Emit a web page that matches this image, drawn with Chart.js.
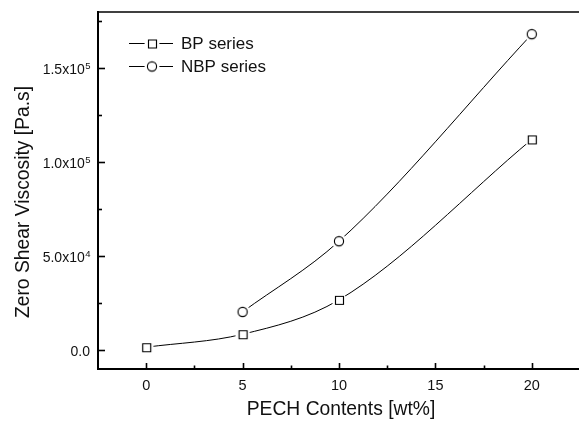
<!DOCTYPE html>
<html>
<head>
<meta charset="utf-8">
<script src="https://cdn.jsdelivr.net/npm/chart.js@4.4.1/dist/chart.umd.min.js"></script>
<style>
    html, body { margin: 0; padding: 0; background: #fff; overflow: hidden; }
    body { width: 579px; height: 421px; }
    #wrap { width: 586px; height: 421px; }
</style>
</head>
<body>
<div id="wrap"><canvas id="viscChart" width="586" height="421"></canvas></div>
<script>
// 数据
const bpContents = [0, 5, 10, 20];
const bpViscosity = [1600, 8500, 26800, 112200];
const nbpContents = [5, 10, 20];
const nbpViscosity = [20400, 58000, 168200];
const xTicks = [0, 5, 10, 15, 20];
const yTicks = [0, 50000, 100000, 150000];
// [底数, 上标]
const yTickLabels = [['0.0', ''], ['5.0x10', '4'], ['1.0x10', '5'], ['1.5x10', '5']];
const seriesNames = ['BP series', 'NBP series'];

const FONT = '"Liberation Sans", Arial, sans-serif';

// 空心符号，外圈留白
function makeMarker(shape) {
    const c = document.createElement('canvas');
    c.width = 22; c.height = 22;
    const g = c.getContext('2d');
    g.fillStyle = '#fff';
    g.beginPath(); g.arc(11, 11, 7.5, 0, Math.PI * 2); g.fill();
    g.strokeStyle = '#000';
    g.lineWidth = 1.15;
    g.beginPath();
    if (shape === 'square') {
        g.rect(7.5, 7.5, 8, 8);
    } else {
        g.arc(11, 11, 4.6, 0, Math.PI * 2);
    }
    g.fill();
    g.stroke();
    return c;
}
const squareMark = makeMarker('square');
const circleMark = makeMarker('circle');

function toPoints(xs, ys) {
    return xs.map((x, i) => ({ x: x, y: ys[i] }));
}

// 刻度、上边框、标题、图例
const decorPlugin = {
    id: 'decor',
    afterDraw(chart) {
        const ctx = chart.ctx;
        const area = chart.chartArea;
        const xs = chart.scales.x, ys = chart.scales.y;
        ctx.save();
        ctx.strokeStyle = '#000';
        ctx.lineWidth = 1.6;
        // 上边框
        ctx.beginPath();
        ctx.moveTo(area.left, area.top);
        ctx.lineTo(area.right, area.top);
        ctx.stroke();
        // x 轴刻度（向内）
        for (let v = -2.5; v <= 22.5; v += 2.5) {
            const px = Math.round(xs.getPixelForValue(v)) + 0.5;
            if (px <= area.left + 1) continue;
            const len = (v % 5 === 0) ? 6 : 3.5;
            ctx.beginPath();
            ctx.moveTo(px, area.bottom);
            ctx.lineTo(px, area.bottom - len);
            ctx.stroke();
        }
        // y 轴刻度（向内）
        for (let v = 0; v <= 175000; v += 25000) {
            const py = Math.round(ys.getPixelForValue(v)) + 0.5;
            const len = (v % 50000 === 0) ? 7 : 4;
            ctx.beginPath();
            ctx.moveTo(area.left, py);
            ctx.lineTo(area.left + len, py);
            ctx.stroke();
        }
        // y 轴刻度文字（带上标）
        ctx.fillStyle = '#111';
        ctx.textBaseline = 'alphabetic';
        ctx.textAlign = 'left';
        yTicks.forEach((v, i) => {
            const py = ys.getPixelForValue(v);
            const base = yTickLabels[i][0], sup = yTickLabels[i][1];
            ctx.font = '9.5px ' + FONT;
            const supW = sup ? ctx.measureText(sup).width : 0;
            ctx.font = '14px ' + FONT;
            const baseW = ctx.measureText(base).width;
            const right = area.left - 8;
            const x0 = right - supW - baseW;
            const baseline = py + 6;
            ctx.fillText(base, x0, baseline);
            if (sup) {
                ctx.font = '9.5px ' + FONT;
                ctx.fillText(sup, x0 + baseW + 0.5, baseline - 5.5);
            }
        });
        // 轴标题
        ctx.font = '19.3px ' + FONT;
        ctx.textAlign = 'center';
        ctx.textBaseline = 'middle';
        ctx.fillText('PECH Contents [wt%]', 341, 410);
        ctx.save();
        ctx.translate(24, 202);
        ctx.rotate(-Math.PI / 2);
        ctx.fillText('Zero Shear Viscosity [Pa.s]', 0, 0);
        ctx.restore();
        // 图例
        const marks = [squareMark, circleMark];
        const rowsY = [43, 66];
        ctx.font = '17px ' + FONT;
        ctx.textAlign = 'left';
        for (let i = 0; i < 2; i++) {
            const y = rowsY[i];
            ctx.lineWidth = 1;
            ctx.beginPath();
            ctx.moveTo(129, y + 0.5);
            ctx.lineTo(173, y + 0.5);
            ctx.stroke();
            ctx.drawImage(marks[i], 152 - 11, y - 11 + 0.5);
            ctx.fillText(seriesNames[i], 181, y + 1);
        }
        ctx.restore();
    }
};

const ctx = document.getElementById('viscChart').getContext('2d');
const viscChart = new Chart(ctx, {
    type: 'scatter',
    data: {
        datasets: [{
            label: seriesNames[0],
            data: toPoints(bpContents, bpViscosity),
            showLine: true,
            borderColor: '#000',
            borderWidth: 1,
            cubicInterpolationMode: 'monotone',
            pointStyle: squareMark,
            pointRadius: 5,
            pointHoverRadius: 5
        }, {
            label: seriesNames[1],
            data: toPoints(nbpContents, nbpViscosity),
            showLine: true,
            borderColor: '#000',
            borderWidth: 1,
            cubicInterpolationMode: 'monotone',
            pointStyle: circleMark,
            pointRadius: 5,
            pointHoverRadius: 5
        }]
    },
    options: {
        responsive: false,
        animation: false,
        layout: {
            padding: { top: 12, right: 0, left: 0, bottom: 0 }
        },
        plugins: {
            legend: { display: false },
            tooltip: { enabled: false }
        },
        scales: {
            x: {
                type: 'linear',
                min: -2.5,
                max: 22.5,
                afterBuildTicks: (scale) => {
                    scale.ticks = xTicks.map(v => ({ value: v }));
                },
                afterFit: (scale) => { scale.height = 52; },
                grid: { display: false, drawTicks: false },
                border: { display: true, color: '#000', width: 2 },
                ticks: {
                    color: '#111',
                    padding: 8,
                    maxRotation: 0,
                    font: { family: FONT, size: 14.5 }
                }
            },
            y: {
                type: 'linear',
                min: -10000,
                max: 180000,
                afterBuildTicks: (scale) => {
                    scale.ticks = yTicks.map(v => ({ value: v }));
                },
                afterFit: (scale) => { scale.width = 98; },
                grid: { display: false, drawTicks: false },
                border: { display: true, color: '#000', width: 2 },
                ticks: { display: false }
            }
        }
    },
    plugins: [decorPlugin]
});
</script>
</body>
</html>
